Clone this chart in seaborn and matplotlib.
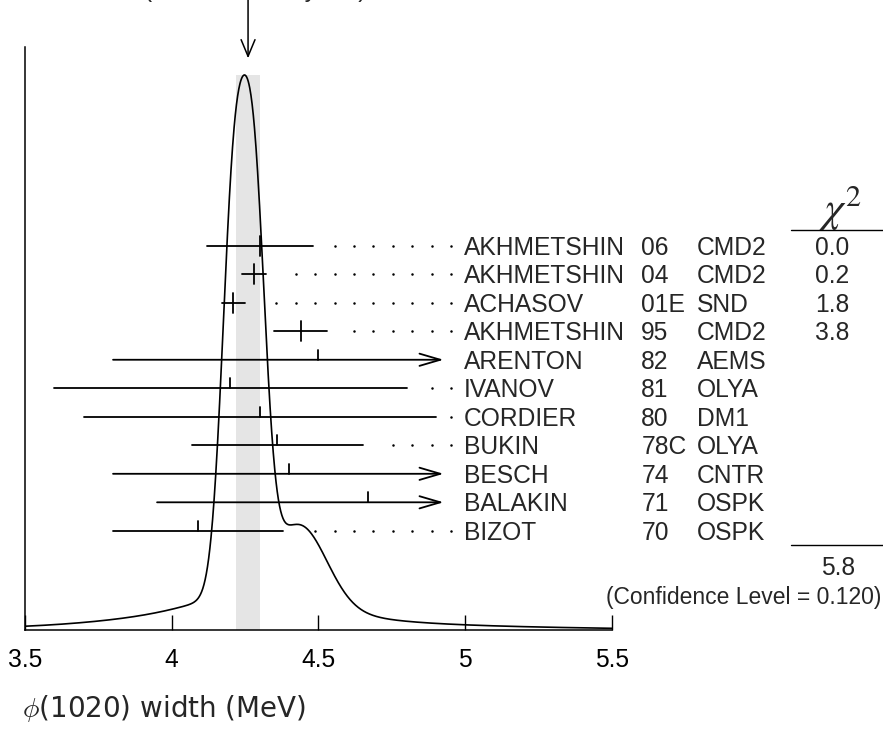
import numpy as np
import pandas as pd
import matplotlib
matplotlib.use("Agg")
import matplotlib.pyplot as plt
import seaborn as sns

# measurements shown in the ideogram (top to bottom)
AUTHORS = ["AKHMETSHIN", "AKHMETSHIN", "ACHASOV", "AKHMETSHIN", "ARENTON", "IVANOV",
           "CORDIER", "BUKIN", "BESCH", "BALAKIN", "BIZOT"]
YEARS = ["06", "04", "01E", "95", "82", "81", "80", "78C", "74", "71", "70"]
EXPTS = ["CMD2", "CMD2", "SND", "CMD2", "AEMS", "OLYA", "DM1", "OLYA", "CNTR", "OSPK", "OSPK"]
VALUES = [4.30, 4.28, 4.21, 4.44, 4.50, 4.20, 4.30, 4.36, 4.40, 4.67, 4.09]
ERRORS = [0.18, 0.04, 0.04, 0.09, 0.70, 0.60, 0.60, 0.29, 0.60, 0.72, 0.29]
CHI2 = ["0.0", "0.2", "1.8", "3.8", "", "", "", "", "", "", ""]
USED = [True, True, True, True, False, False, False, False, False, False, False]

AVERAGE = 4.26
AVERAGE_ERR = 0.04
SCALE_FACTOR = "1.4"
CHI2_TOTAL = "5.8"
CONF_LEVEL = "0.120"

XTICKS = [3.5, 4, 4.5, 5, 5.5]
XTICK_LABELS = ["3.5", "4", "4.5", "5", "5.5"]

CLIP = 4.926      # where long error bars turn into arrows
TXT = 17.7

df = pd.DataFrame({"author": AUTHORS, "year": YEARS, "expt": EXPTS,
                   "value": VALUES, "error": ERRORS, "chi2": CHI2, "used": USED})

sns.set_theme(style="white")
plt.rcParams["font.family"] = ["Liberation Sans", "DejaVu Sans"]

fig = plt.figure(figsize=(8.83, 7.32), dpi=100)
ax = fig.add_axes([0.0283, 0.1393, 0.6648, 0.7965])

# ideogram: sum of gaussians, area ~ 1/sigma
grid = np.linspace(3.5, 5.5, 1500)
ideo = np.zeros_like(grid)
for v, e in zip(df["value"], df["error"]):
    ideo += np.exp(-(grid - v) ** 2 / (2 * e ** 2)) / e ** 2
ideo /= ideo.max()

ax.fill_between([AVERAGE - AVERAGE_ERR, AVERAGE + AVERAGE_ERR], 0, 1,
                color="#e5e5e5", lw=0, zorder=1)
sns.lineplot(x=grid, y=ideo, ax=ax, color="black", lw=1.2, zorder=3)

ax.set_xlim(3.5, 5.5)
ax.set_ylim(0, 1 / 0.952)
ax.set_xticks(XTICKS)
ax.set_xticklabels(XTICK_LABELS)
ax.set_yticks([])
ax.tick_params(axis="x", direction="in", length=11, width=1, pad=13,
               labelsize=TXT, colors="black", bottom=True)
for s in ["top", "right"]:
    ax.spines[s].set_visible(False)
for s in ["left", "bottom"]:
    ax.spines[s].set_color("black")
    ax.spines[s].set_linewidth(1.1)

# arrow pointing at the weighted average
ax.annotate("", xy=(AVERAGE, 1.03), xycoords="data",
            xytext=(AVERAGE, 1.0), textcoords=("data", "figure fraction"),
            arrowprops=dict(arrowstyle="->,head_length=0.6,head_width=0.25",
                            mutation_scale=20, lw=1.1, color="black",
                            shrinkA=0, shrinkB=0))
fig.text(255 / 883, 1 + 3 / 732, f"(Error scaled by {SCALE_FACTOR})",
         ha="center", va="baseline", fontsize=TXT)

# measurements panel
ax2 = ax.twinx()
ax2.set_ylim(13.48, -6.97)
ax2.set_yticks([])
for s in ax2.spines.values():
    s.set_visible(False)

dot_grid = 4.952 - 0.0662 * np.arange(25)
for i, row in df.iterrows():
    lo = row["value"] - row["error"]
    hi = row["value"] + row["error"]
    if hi > CLIP:
        ax2.annotate("", xy=(CLIP, i), xytext=(lo, i),
                     arrowprops=dict(arrowstyle="->,head_length=0.75,head_width=0.22",
                                     mutation_scale=20, lw=1.3, color="black",
                                     shrinkA=0, shrinkB=0))
        hi = CLIP
    else:
        ax2.plot([lo, hi], [i, i], color="black", lw=1.3)
    if row["used"]:
        ax2.plot([row["value"]] * 2, [i - 0.35, i + 0.35], color="black", lw=1.3)
    else:
        ax2.plot([row["value"]] * 2, [i - 0.35, i], color="black", lw=1.3)
    dots = dot_grid[dot_grid > hi + 0.048]
    ax2.plot(dots, [i] * len(dots), "o", ms=1.8, color="black", mec="none")

    yb = i + 0.31
    ax2.text(4.996, yb, row["author"], fontsize=TXT, va="baseline")
    ax2.text(5.60, yb, row["year"], fontsize=TXT, va="baseline")
    ax2.text(5.79, yb, row["expt"], fontsize=TXT, va="baseline")
    if row["chi2"]:
        ax2.text(6.25, yb, row["chi2"], fontsize=TXT, va="baseline", ha="center")

ax2.text(6.28, -1.3, r"$\chi^2$", math_fontfamily="stix", fontsize=31,
         ha="center", va="center")
ax2.plot([6.11, 6.425], [-0.55, -0.55], color="black", lw=1, clip_on=False)
ax2.plot([6.11, 6.425], [10.5, 10.5], color="black", lw=1, clip_on=False)
ax2.text(6.27, 11.24 + 0.31, CHI2_TOTAL, fontsize=TXT, va="baseline", ha="center")
ax2.text(6.418, 12.25 + 0.31, f"(Confidence Level = {CONF_LEVEL})",
         fontsize=16.5, va="baseline", ha="right")

fig.text(22 / 883, 1 - 708 / 732, r"$\phi$(1020) width (MeV)",
         family="DejaVu Sans", math_fontfamily="cm", fontsize=20,
         ha="left", va="center")

fig.savefig("out.png", dpi=100)
